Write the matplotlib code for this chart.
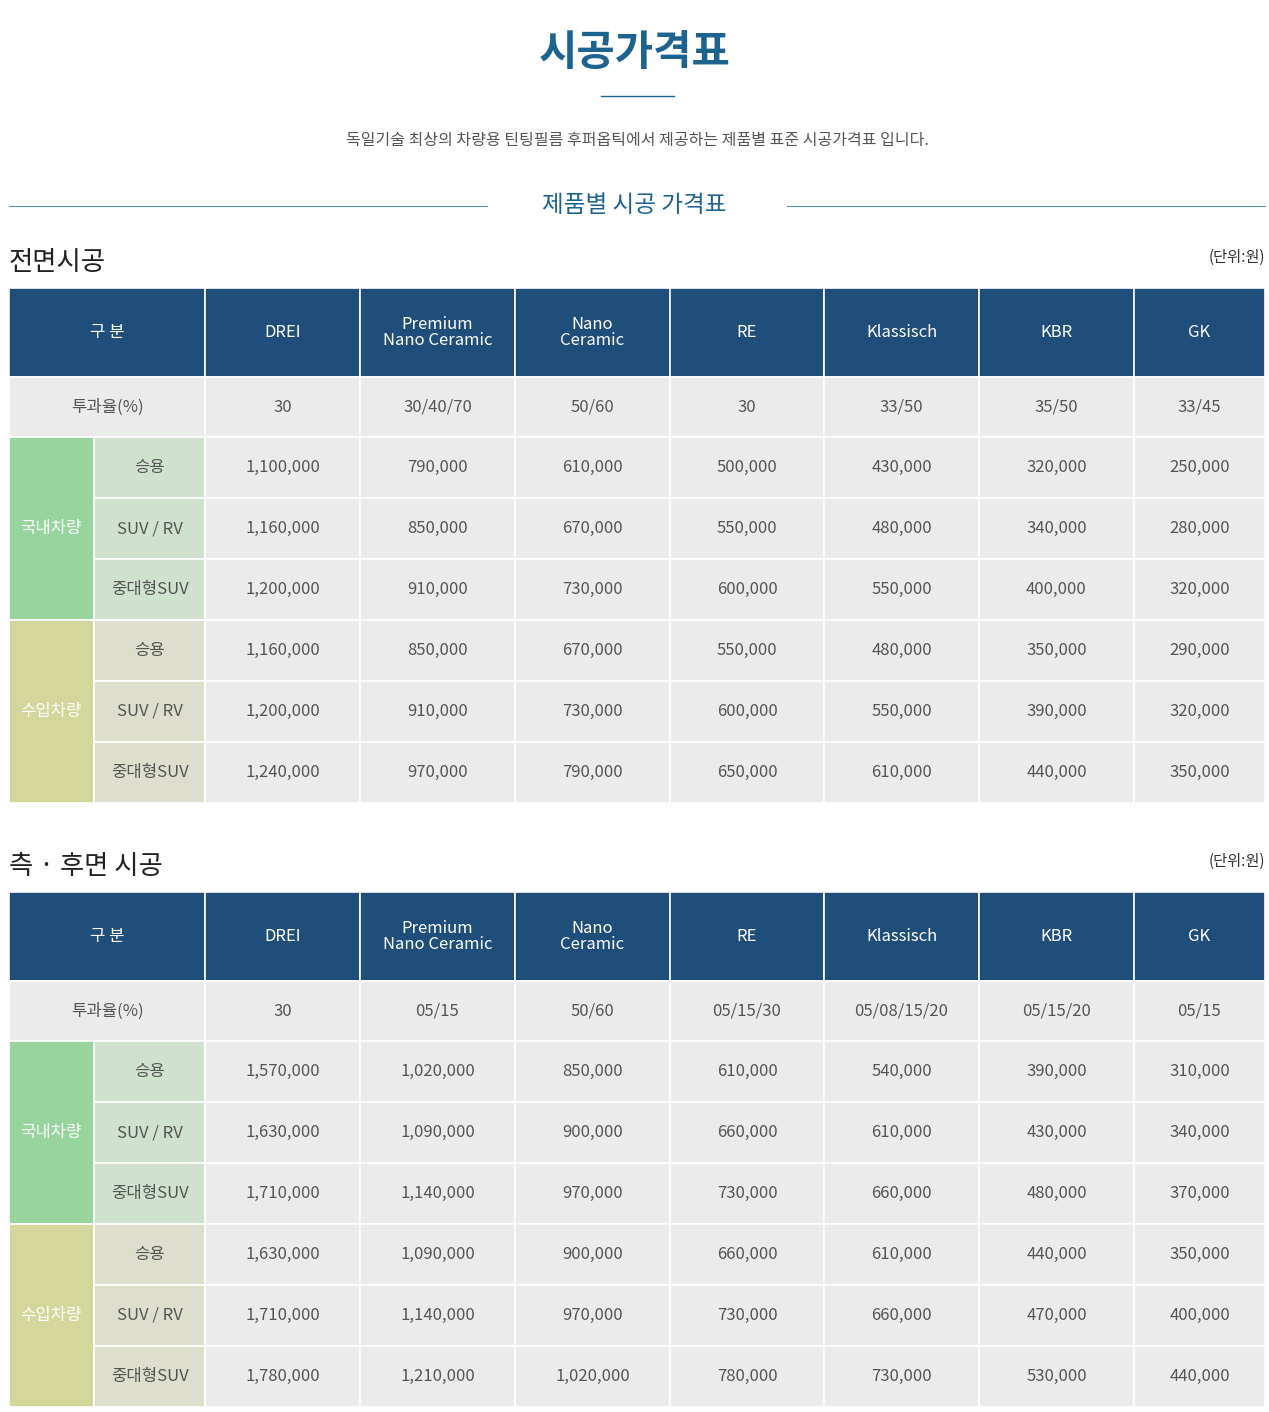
import matplotlib.pyplot as plt
from matplotlib.patches import Rectangle

plt.rcParams['font.family'] = 'Noto Sans CJK KR'

products = ['DREI', 'Premium\nNano Ceramic', 'Nano\nCeramic', 'RE', 'Klassisch', 'KBR', 'GK']
groups = ['국내차량', '수입차량']
car_types = ['승용', 'SUV / RV', '중대형SUV']

front_vlt = ['30', '30/40/70', '50/60', '30', '33/50', '35/50', '33/45']
front_prices = [
    [1100000, 790000, 610000, 500000, 430000, 320000, 250000],
    [1160000, 850000, 670000, 550000, 480000, 340000, 280000],
    [1200000, 910000, 730000, 600000, 550000, 400000, 320000],
    [1160000, 850000, 670000, 550000, 480000, 350000, 290000],
    [1200000, 910000, 730000, 600000, 550000, 390000, 320000],
    [1240000, 970000, 790000, 650000, 610000, 440000, 350000],
]
side_vlt = ['30', '05/15', '50/60', '05/15/30', '05/08/15/20', '05/15/20', '05/15']
side_prices = [
    [1570000, 1020000, 850000, 610000, 540000, 390000, 310000],
    [1630000, 1090000, 900000, 660000, 610000, 430000, 340000],
    [1710000, 1140000, 970000, 730000, 660000, 480000, 370000],
    [1630000, 1090000, 900000, 660000, 610000, 440000, 350000],
    [1710000, 1140000, 970000, 730000, 660000, 470000, 400000],
    [1780000, 1210000, 1020000, 780000, 730000, 530000, 440000],
]

W, H = 1269, 1412
fig = plt.figure(figsize=(W / 100, H / 100), dpi=100)
ax = fig.add_axes([0, 0, 1, 1])
ax.set_xlim(0, W)
ax.set_ylim(H, 0)
ax.axis('off')

HEAD = '#1f4e7a'
GRAY = '#ebebeb'
GREEN, GREEN2 = '#97d59c', '#d0e1d0'
OLIVE, OLIVE2 = '#d4d79c', '#dddece'
TXT = '#555555'

cols = [9, 205, 360, 515, 670, 824, 979, 1134, 1265]


def cell(x0, x1, y0, y1, color):
    ax.add_patch(Rectangle((x0, y0), x1 - x0, y1 - y0, facecolor=color,
                           edgecolor='white', linewidth=1.2))


def draw_table(top, title, vlt, prices):
    ax.text(9, top - 25, title, fontsize=19, color='#222222', va='center', ha='left')
    ax.text(1265, top - 31, '(단위:원)', fontsize=11, color='#333333', va='center', ha='right')
    hb = top + 89
    cell(cols[0], cols[1], top, hb, HEAD)
    ax.text((cols[0] + cols[1]) / 2, (top + hb) / 2, '구 분', color='white', fontsize=12,
            ha='center', va='center')
    for i, p in enumerate(products):
        cell(cols[i + 1], cols[i + 2], top, hb, HEAD)
        ax.text((cols[i + 1] + cols[i + 2]) / 2, (top + hb) / 2, p, color='white', fontsize=12,
                ha='center', va='center', linespacing=0.85)
    r0, r1 = hb, hb + 60
    cell(cols[0], cols[1], r0, r1, GRAY)
    ax.text((cols[0] + cols[1]) / 2, (r0 + r1) / 2, '투과율(%)', color=TXT, fontsize=12,
            ha='center', va='center')
    for i, v in enumerate(vlt):
        cell(cols[i + 1], cols[i + 2], r0, r1, GRAY)
        ax.text((cols[i + 1] + cols[i + 2]) / 2, (r0 + r1) / 2, v, color=TXT, fontsize=12,
                ha='center', va='center')
    rh = 61
    y = r1
    for g, gname in enumerate(groups):
        c1, c2 = (GREEN, GREEN2) if g == 0 else (OLIVE, OLIVE2)
        cell(cols[0], 94, y, y + 3 * rh, c1)
        ax.text(51, y + 1.5 * rh, gname, color='white', fontsize=12, ha='center', va='center')
        for k, ct in enumerate(car_types):
            ya = y + k * rh
            cell(94, cols[1], ya, ya + rh, c2)
            ax.text((94 + cols[1]) / 2, ya + rh / 2, ct, color=TXT, fontsize=12,
                    ha='center', va='center')
            for i, val in enumerate(prices[g * 3 + k]):
                cell(cols[i + 1], cols[i + 2], ya, ya + rh, GRAY)
                ax.text((cols[i + 1] + cols[i + 2]) / 2, ya + rh / 2, f'{val:,}', color=TXT,
                        fontsize=12, ha='center', va='center')
        y += 3 * rh


# page header
ax.text(W / 2, 53, '시공가격표', fontsize=30, color='#1d6390', ha='center', va='center',
        fontweight='bold')
ax.plot([601, 674], [96, 96], color='#1d6390', lw=1)
ax.text(W / 2 + 3, 140, '독일기술 최상의 차량용 틴팅필름 후퍼옵틱에서 제공하는 제품별 표준 시공가격표 입니다.',
        fontsize=11.5, color='#555555', ha='center', va='center')
ax.text(W / 2, 206, '제품별 시공 가격표', fontsize=17, color='#1d6390', ha='center', va='center')
ax.plot([9, 487], [206, 206], color='#5a8fb0', lw=0.8)
ax.plot([787, 1265], [206, 206], color='#5a8fb0', lw=0.8)

draw_table(288, '전면시공', front_vlt, front_prices)
draw_table(892, '측 · 후면 시공', side_vlt, side_prices)

fig.savefig('out.png', dpi=100, facecolor='white')
